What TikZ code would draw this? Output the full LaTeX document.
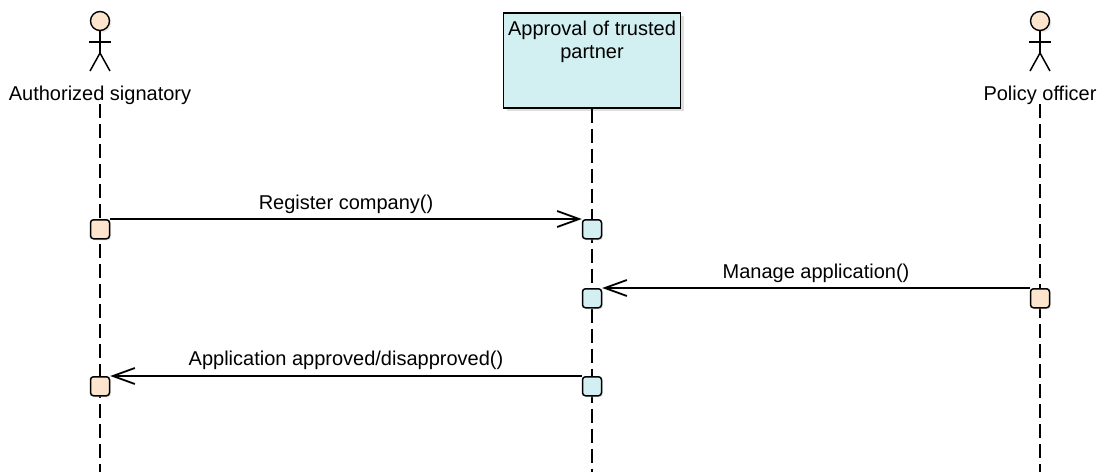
\documentclass[tikz,border=0pt]{standalone}
\usepackage{fontspec}
\setmainfont{Liberation Sans}
\usetikzlibrary{arrows.meta,shadows}
\definecolor{actorfill}{RGB}{252,229,204}
\definecolor{partfill}{RGB}{210,240,242}
\tikzstyle{head}=[circle,draw,line width=1.4pt,fill=actorfill,minimum size=19pt,inner sep=0pt,drop shadow={shadow xshift=2pt,shadow yshift=-2pt,fill=black!15}]
\tikzstyle{limb}=[draw,line width=1.5pt]
\tikzstyle{part}=[rectangle,draw,line width=1.6pt,fill=partfill,minimum width=177pt,minimum height=95pt,inner sep=0pt,drop shadow={shadow xshift=3pt,shadow yshift=-3pt,fill=black!25}]
\tikzstyle{txt}=[font=\fontsize{20}{23}\selectfont,inner sep=0pt]
\tikzstyle{lifeline}=[draw,line width=2pt,dash pattern=on 14pt off 6pt]
\tikzstyle{act}=[rectangle,rounded corners=3pt,draw,line width=1.5pt,minimum size=19pt,inner sep=0pt,anchor=north,drop shadow={shadow xshift=1.5pt,shadow yshift=-1.5pt,fill=black!15}]
\tikzstyle{msg}=[draw,line width=1.8pt,-{Straight Barb[length=22pt,width=16pt]}]

\begin{document}
\begin{tikzpicture}[x=1pt,y=-1pt]
        \useasboundingbox (0,0) rectangle (1097,472);
        % actors and object
        \node[head] (sighead) at (100,21) {};
        \path[limb] (sighead.south) -- (100,53);
        \path[limb] (89,42) -- (111,42);
        \path[limb] (90,71) -- (100,53) -- (110,71);
        \node[txt,anchor=base] (sig) at (100,100) {Authorized signatory};
        \node[head] (offhead) at (1040,21) {};
        \path[limb] (offhead.south) -- (1040,53);
        \path[limb] (1029,42) -- (1051,42);
        \path[limb] (1030,71) -- (1040,53) -- (1050,71);
        \node[txt,anchor=base] (off) at (1040,100) {Policy officer};
        \node[part,anchor=north] (app) at (592,12) {};
        \node[txt,align=center,anchor=north] (apptext) at ([yshift=-9pt]app.north) {Approval of trusted\\partner};
        % lifelines
        \coordinate (sigend) at (100,472);
        \coordinate (append) at (592,472);
        \coordinate (offend) at (1040,472);
        \path[lifeline] (sig.south) -- (sigend);
        \path[lifeline] (app.south) -- (append);
        \path[lifeline] (off.south) -- (offend);
        % activations
        \node[act,fill=actorfill] (a1) at (100,219) {};
        \node[act,fill=partfill] (b1) at (592,219) {};
        \node[act,fill=actorfill] (c2) at (1040,288) {};
        \node[act,fill=partfill] (b2) at (592,288) {};
        \node[act,fill=partfill] (b3) at (592,376) {};
        \node[act,fill=actorfill] (a3) at (100,376) {};
        % messages
        \path[msg] (a1.north east) -- node[txt,above=4pt] {Register company()} (b1.north west);
        \path[msg] (c2.north west) -- node[txt,above=4pt] {Manage application()} (b2.north east);
        \path[msg] (b3.north west) -- node[txt,above=5pt] {Application approved/disapproved()} (a3.north east);
    \end{tikzpicture}
\end{document}
